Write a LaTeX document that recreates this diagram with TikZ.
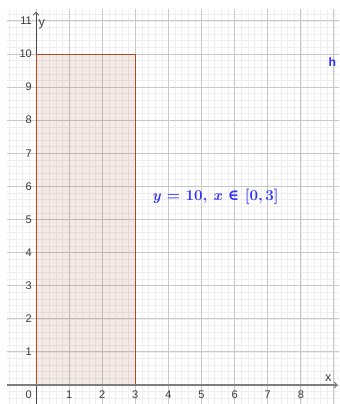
\documentclass[tikz,border=0pt]{standalone}
\usepackage{fontspec}
\setsansfont{Liberation Sans}
\newfontfamily\symfont{DejaVu Serif}
\usetikzlibrary{arrows.meta}
\definecolor{minorgrid}{RGB}{238,238,238}
\definecolor{majorgrid}{RGB}{200,200,200}
\definecolor{axiscol}{RGB}{70,70,70}
\definecolor{polyedge}{RGB}{175,75,35}
\definecolor{polyfill}{RGB}{153,51,0}
\definecolor{ggblue}{RGB}{50,50,255}
\definecolor{ticklab}{RGB}{60,60,60}
\tikzset{
  ticklabel/.style={font=\sffamily\fontsize{9.5}{10}\selectfont, text=ticklab, inner sep=0pt},
  axisline/.style={axiscol, line width=0.6pt, -{Straight Barb[length=2.5pt,width=5pt]}},
  eqstyle/.style={font=\bfseries\fontsize{13}{14}\selectfont, text=ggblue, anchor=west, inner sep=0pt},
}
\begin{document}
\begin{tikzpicture}
\useasboundingbox (-1.088,-0.574) rectangle (9.154,11.631);
\fill[white] (-1.088,-0.574) rectangle (9.154,11.631);
\begin{scope}
\clip (-0.87,-0.574) rectangle (9.154,11.33);
\foreach \i in {-5,...,46} {\draw[minorgrid, line width=0.5pt] (\i/5,-1) -- (\i/5,12);}
\foreach \i in {-3,...,57} {\draw[minorgrid, line width=0.5pt] (-1,\i/5) -- (10,\i/5);}
\foreach \i in {-1,...,9} {\draw[majorgrid, line width=0.8pt] (\i,-1) -- (\i,12);}
\foreach \i in {-1,...,11} {\draw[majorgrid, line width=0.8pt] (-1,\i) -- (10,\i);}
\end{scope}
% axes
\coordinate (yb) at (0,-0.574);
\coordinate (yt) at (0,11.27);
\coordinate (xl) at (-0.87,0);
\coordinate (xr) at (9.12,0);
\draw[axisline] (yb) -- (yt);
% polygon
\coordinate (A) at (0,0);
\coordinate (B) at (3,0);
\coordinate (C) at (3,10);
\coordinate (D) at (0,10);
\fill[polyfill, fill opacity=0.1] (A) -- (B) -- (C) -- (D) -- cycle;
\draw[polyedge, line width=0.8pt] (A) -- (B) -- (C) -- (D) -- cycle;
\draw[axisline, axiscol!70, line width=1pt] (xl) -- (xr);
% labels
\foreach \k in {1,...,11} {\node[ticklabel, anchor=east] (yl\k) at (-0.12,\k) {\k};}
\foreach \k in {1,...,8} {\node[ticklabel] (xt\k) at (\k,-0.3) {\k};}
\node[ticklabel] (x0) at (-0.22,-0.3) {0};
\node[font=\sffamily\fontsize{11}{12}\selectfont, text=axiscol, anchor=west, inner sep=0pt] (ylab) at (0.07,10.9) {y};
\node[font=\sffamily\fontsize{11}{12}\selectfont, text=axiscol, inner sep=0pt] (xlab) at (8.83,0.22) {x};
\node[font=\sffamily\bfseries\fontsize{10.5}{11}\selectfont, text=ggblue, inner sep=0pt] (hlab) at (8.95,9.76) {h};
\node[eqstyle] (eqn) at (3.5,5.68) {\textit{y} = 10, \textit{x} {\symfont ∈} [0,\,3]};
\end{tikzpicture}
\end{document}
